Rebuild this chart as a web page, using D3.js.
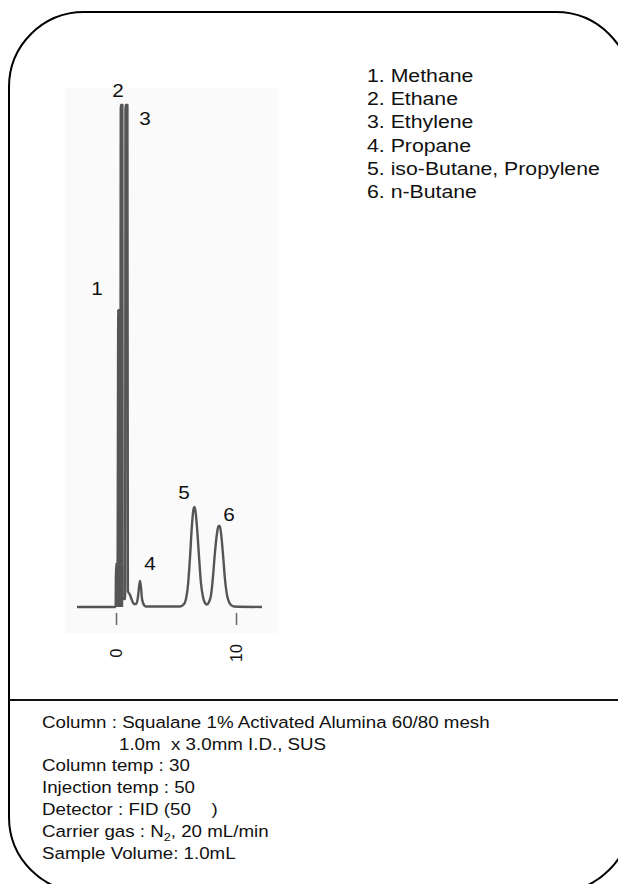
<!DOCTYPE html>
<html>
<head>
<meta charset="utf-8">
<script src="https://cdn.jsdelivr.net/npm/d3@7"></script>
<style>
  html, body { margin: 0; padding: 0; background: #fff; }
  svg { display: block; }
  text { font-family: "Liberation Sans", Arial, sans-serif; fill: #111; }
</style>
</head>
<body>
<div id="chart"></div>
<script>
// ---- Data ----
// Chromatogram trace: retention time (min) and detector signal (arbitrary units)
const traceTime = [-3.25, -0.03, 0.0, 0.08, 0.13, 0.19, 0.25, 0.32, 0.36, 0.40, 0.53, 0.55, 0.62, 0.76, 0.79, 0.95, 0.99, 1.17, 1.29, 1.5, 1.67, 1.83, 1.92, 2.0, 2.08, 2.17, 2.33, 2.5, 5.33, 5.67, 5.83, 6.0, 6.17, 6.33, 6.46, 6.54, 6.62, 6.75, 6.92, 7.08, 7.25, 7.42, 7.58, 7.75, 7.92, 8.08, 8.25, 8.42, 8.54, 8.65, 8.75, 8.92, 9.08, 9.25, 9.42, 9.58, 9.83, 12.17];
const traceSignal = [0, 0, 43, 43, 44, 297, 44, 42, 42, 502, 502, 10, 8, 8, 502, 502, 16, 12, 8, 3, 3, 10, 20, 26, 20, 8, 2, 0.5, 0.5, 3, 8, 22, 50, 82, 98, 100, 96, 80, 50, 24, 10, 4, 2.5, 5, 12, 30, 55, 74, 81, 81, 74, 52, 28, 12, 5, 2, 0.5, 0];
// Unresolved pen band at the injection point
const bandTime = [0.0, 0.6];
const bandSignal = [42, 42];
// Peak number labels
const peakLabels = ["1", "2", "3", "4", "5", "6"];
const peakLabelTime = [-1.58, 0.17, 2.42, 2.83, 5.67, 9.42];
const peakLabelSignal = [319, 517, 489, 44, 115, 93];
// Axis ticks
const tickValues = [0, 10];
const tickLabels = ["0", "10"];
// Legend
const legendItems = ["1. Methane", "2. Ethane", "3. Ethylene", "4. Propane", "5. iso-Butane, Propylene", "6. n-Butane"];
// Conditions
const conditionLines = [
  {text: "Column : Squalane 1% Activated Alumina 60/80 mesh", indent: false},
  {text: "1.0m  x 3.0mm I.D., SUS", indent: true},
  {text: "Column temp : 30", indent: false},
  {text: "Injection temp : 50", indent: false},
  {text: "Detector : FID (50    )", indent: false},
  {text: "CARRIER", indent: false},
  {text: "Sample Volume: 1.0mL", indent: false}
];

// ---- Drawing ----
const W = 618, H = 884;
const STRETCH = 1.15;
const svg = d3.select("#chart").append("svg").attr("width", W).attr("height", H);
svg.append("rect").attr("width", W).attr("height", H).attr("fill", "#fff");

// faint scanned background
svg.append("rect").attr("x", 65).attr("y", 88).attr("width", 213).attr("height", 545).attr("fill", "#fafafa");

// frame
svg.append("rect").attr("x", 9).attr("y", 12).attr("width", 622).attr("height", 880)
  .attr("rx", 75).attr("ry", 75).attr("fill", "none").attr("stroke", "#000").attr("stroke-width", 2);
svg.append("line").attr("x1", 9).attr("x2", W).attr("y1", 700).attr("y2", 700)
  .attr("stroke", "#111").attr("stroke-width", 2);

const x = d3.scaleLinear().domain([0, 10]).range([116, 236]);
const y = d3.scaleLinear().domain([0, 500]).range([607, 107]);

const traceColor = "#555";
// band
const band = bandTime.map((t, i) => ({t, v: bandSignal[i]}));
svg.append("path").datum(band)
  .attr("d", d3.area().x(d => x(d.t)).y0(y(0)).y1(d => y(d.v)))
  .attr("fill", traceColor);

const trace = traceTime.map((t, i) => ({t, v: traceSignal[i]}));
svg.append("path").datum(trace)
  .attr("d", d3.line().x(d => x(d.t)).y(d => y(d.v)).curve(d3.curveMonotoneX))
  .attr("fill", "none").attr("stroke", traceColor).attr("stroke-width", 2.4)
  .attr("stroke-linejoin", "round");

// axis
const axis = d3.axisBottom(x).tickValues(tickValues).tickSize(12).tickFormat("");
const ax = svg.append("g").attr("transform", "translate(0,613)").call(axis);
ax.select(".domain").remove();
ax.selectAll(".tick line").attr("stroke", "#666").attr("stroke-width", 1.5);
svg.selectAll(".ticklabel").data(tickValues).enter().append("text")
  .attr("transform", d => `translate(${x(d)},653) rotate(-90)`)
  .attr("text-anchor", "middle").attr("dominant-baseline", "central")
  .attr("font-size", 16).text((d, i) => tickLabels[i]);

// peak labels
svg.selectAll(".peaklabel").data(peakLabels).enter().append("text")
  .attr("transform", (d, i) => `translate(${x(peakLabelTime[i])},${y(peakLabelSignal[i]) + 6.5}) scale(${STRETCH},1)`)
  .attr("text-anchor", "middle")
  .attr("font-size", 18).text(d => d);

// legend
svg.selectAll(".legend").data(legendItems).enter().append("text")
  .attr("transform", (d, i) => `translate(367,${81.6 + i * 23.3}) scale(${STRETCH},1)`)
  .attr("font-size", 18.5).text(d => d);

// conditions
const cond = svg.append("g");
conditionLines.forEach((c, i) => {
  const t = cond.append("text")
    .attr("transform", `translate(${c.indent ? 119 : 42},${727.8 + i * 21.8}) scale(${STRETCH},1)`)
    .attr("font-size", 16.3).attr("xml:space", "preserve").style("white-space", "pre");
  if (c.text === "CARRIER") {
    t.append("tspan").text("Carrier gas : N");
    t.append("tspan").attr("font-size", 11).attr("dy", 4.5).text("2");
    t.append("tspan").attr("dy", -4.5).text(", 20 mL/min");
  } else {
    t.text(c.text);
  }
});
</script>
</body>
</html>
